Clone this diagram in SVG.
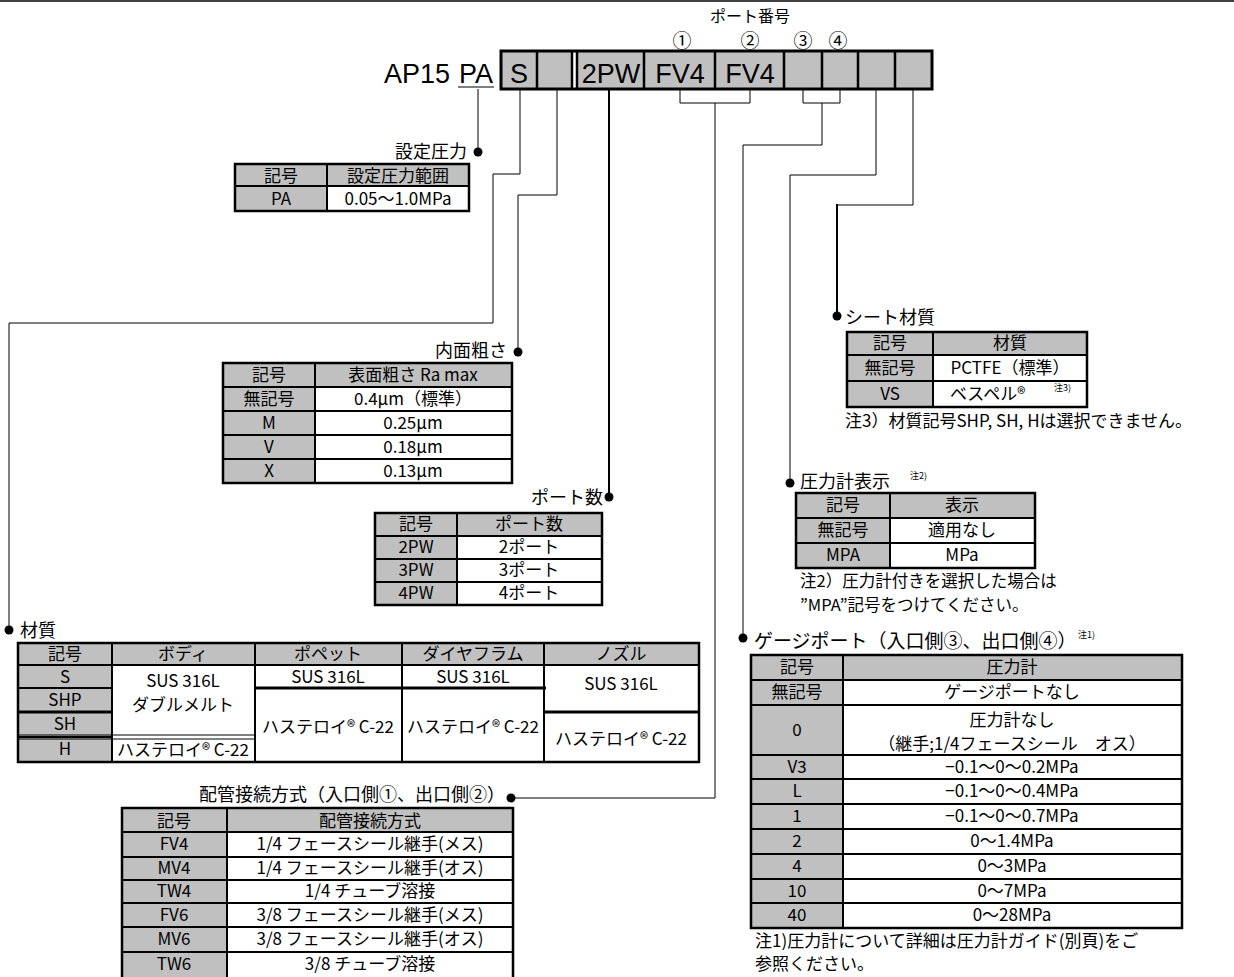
<svg xmlns="http://www.w3.org/2000/svg" width="1234" height="977" viewBox="0 0 1234 977">
<style>
text{font-family:"Noto Sans CJK JP","Liberation Sans",sans-serif;font-size:17px;fill:#000}
.c{text-anchor:middle}
.e{text-anchor:end}
.lb{font-size:18px}
.nt{font-size:16.5px}
.sup{font-size:9px}
.big{font-family:"Liberation Sans",sans-serif;font-size:27px}
.g{fill:#c0c0c0}
.w{fill:#fff}
.ob{fill:none;stroke:#000;stroke-width:2.5}
.il{stroke:#000;stroke-width:2;fill:none}
.cn{stroke:#000;stroke-width:1;fill:none}
.cn2{stroke:#000;stroke-width:2;fill:none}
.dot{fill:#000}
</style>
<rect width="1234" height="977" fill="#fff"/>
<line x1="0" y1="1" x2="1234" y2="1" stroke="#000" stroke-width="1.5"/>

<g id="header">
<text class="c" x="750" y="22" style="font-size:16px">ポート番号</text>
<text class="c" x="682" y="48" style="font-size:19px">①</text>
<text class="c" x="750" y="48" style="font-size:19px">②</text>
<text class="c" x="803" y="48" style="font-size:19px">③</text>
<text class="c" x="838" y="48" style="font-size:19px">④</text>
<text class="big e" x="450" y="83">AP15</text>
<text class="big c" x="476" y="83">PA</text>
<line x1="458" y1="87" x2="494" y2="87" stroke="#000" stroke-width="1.2"/>
<rect x="501" y="51" width="431" height="38" class="g"/>
<rect x="572" y="51" width="5" height="38" class="w"/>
<rect x="501" y="51" width="431" height="38" style="fill:none;stroke:#000;stroke-width:3"/>
<path d="M537,51V89M572,51V89M577,51V89M644,51V89M715,51V89M784,51V89M822,51V89M858,51V89M895,51V89" style="stroke:#000;stroke-width:2.5"/>
<text class="big c" x="519" y="83">S</text>
<text class="big c" x="611" y="83">2PW</text>
<text class="big c" x="680" y="83">FV4</text>
<text class="big c" x="750" y="83">FV4</text>
</g>

<g id="connectors">
<path class="cn" d="M478,89V152"/>
<path class="cn" d="M520,89V174H493V323H9V630"/>
<path class="cn" d="M557,89V195H518V352"/>
<path class="cn2" d="M609,89V497"/>
<path class="cn" d="M680,89V103H750V89M715,103V798H511"/>
<path class="cn" d="M803,89V103H840V89M822,103V145H743V638"/>
<path class="cn" d="M876,89V175H790V483"/>
<path class="cn" d="M913,89V205H837"/>
<path class="cn2" d="M837,204V316"/>
<circle class="dot" cx="478" cy="152" r="4.5"/>
<circle class="dot" cx="9" cy="630" r="4.5"/>
<circle class="dot" cx="518" cy="352" r="4.5"/>
<circle class="dot" cx="609" cy="497" r="4.5"/>
<circle class="dot" cx="511" cy="798" r="4.5"/>
<circle class="dot" cx="743" cy="638" r="4.5"/>
<circle class="dot" cx="790" cy="483" r="4.5"/>
<circle class="dot" cx="837" cy="316" r="4.5"/>
</g>

<g id="setting-pressure">
<text class="lb e" x="467" y="158">設定圧力</text>
<rect x="235" y="164" width="234" height="22" class="g"/>
<rect x="235" y="186" width="92" height="25" class="g"/>
<rect x="327" y="186" width="142" height="25" class="w"/>
<path class="il" d="M327,164V211M235,186H469"/>
<rect x="235" y="164" width="234" height="47" class="ob"/>
<text class="c" x="281" y="182">記号</text>
<text class="c" x="398" y="182">設定圧力範囲</text>
<text class="c" x="281" y="205">PA</text>
<text class="c" x="398" y="205">0.05〜1.0MPa</text>
</g>

<g id="roughness">
<text class="lb e" x="507" y="357">内面粗さ</text>
<rect x="223" y="363" width="289" height="24" class="g"/>
<rect x="223" y="387" width="92" height="96" class="g"/>
<rect x="315" y="387" width="197" height="96" class="w"/>
<path class="il" d="M315,363V483M223,387H512M223,411H512M223,435H512M223,459H512"/>
<rect x="223" y="363" width="289" height="120" class="ob"/>
<text class="c" x="269" y="381">記号</text>
<text class="c" x="413" y="381">表面粗さ Ra max</text>
<text class="c" x="269" y="405">無記号</text>
<text class="c" x="413" y="405">0.4μm（標準）</text>
<text class="c" x="269" y="429">M</text>
<text class="c" x="413" y="429">0.25μm</text>
<text class="c" x="269" y="453">V</text>
<text class="c" x="413" y="453">0.18μm</text>
<text class="c" x="269" y="477">X</text>
<text class="c" x="413" y="477">0.13μm</text>
</g>

<g id="ports">
<text class="lb e" x="603" y="504">ポート数</text>
<rect x="375" y="513" width="227" height="23" class="g"/>
<rect x="375" y="536" width="82" height="69" class="g"/>
<rect x="457" y="536" width="145" height="69" class="w"/>
<path class="il" d="M457,513V605M375,536H602M375,559H602M375,582H602"/>
<rect x="375" y="513" width="227" height="92" class="ob"/>
<text class="c" x="416" y="530">記号</text>
<text class="c" x="529" y="530">ポート数</text>
<text class="c" x="416" y="553">2PW</text>
<text class="c" x="529" y="553">2ポート</text>
<text class="c" x="416" y="576">3PW</text>
<text class="c" x="529" y="576">3ポート</text>
<text class="c" x="416" y="599">4PW</text>
<text class="c" x="529" y="599">4ポート</text>
</g>

<g id="material">
<text class="lb" x="20" y="637">材質</text>
<rect x="18" y="643" width="681" height="22" class="g"/>
<rect x="18" y="665" width="94" height="97" class="g"/>
<rect x="112" y="665" width="587" height="97" class="w"/>
<path class="il" d="M112,643V762M255,643V762M402,643V762M544,643V762M18,665H699M18,688H112M18,737H112"/>
<path style="stroke:#000;stroke-width:3" d="M255,688H546M18,712H112M544,712H699"/>
<path style="stroke:#000;stroke-width:1" d="M18,735H255M18,739H255"/>
<rect x="18" y="643" width="681" height="119" class="ob"/>
<text class="c" x="65" y="660">記号</text>
<text class="c" x="183" y="660">ボディ</text>
<text class="c" x="328" y="660">ポペット</text>
<text class="c" x="473" y="660">ダイヤフラム</text>
<text class="c" x="621" y="660">ノズル</text>
<text class="c" x="65" y="683">S</text>
<text class="c" x="65" y="706">SHP</text>
<text class="c" x="65" y="730">SH</text>
<text class="c" x="65" y="755">H</text>
<text class="c" x="183" y="687">SUS 316L</text>
<text class="c" x="183" y="711">ダブルメルト</text>
<text class="c" x="183" y="756">ハステロイ® C-22</text>
<text class="c" x="328" y="683">SUS 316L</text>
<text class="c" x="328" y="733">ハステロイ® C-22</text>
<text class="c" x="473" y="683">SUS 316L</text>
<text class="c" x="473" y="733">ハステロイ® C-22</text>
<text class="c" x="621" y="690">SUS 316L</text>
<text class="c" x="621" y="745">ハステロイ® C-22</text>
</g>

<g id="piping">
<text class="lb e" x="505" y="801">配管接続方式（入口側①、出口側②）</text>
<rect x="122" y="808" width="391" height="24" class="g"/>
<rect x="122" y="832" width="105" height="145" class="g"/>
<rect x="227" y="832" width="286" height="145" class="w"/>
<path class="il" d="M227,808V977M122,832H513M122,857H513M122,880H513M122,903H513M122,927H513M122,952H513"/>
<path class="ob" d="M122,978V808H513V978"/>
<text class="c" x="174" y="827">記号</text>
<text class="c" x="370" y="827">配管接続方式</text>
<text class="c" x="174" y="850">FV4</text>
<text class="c" x="370" y="850">1/4  フェースシール継手(メス)</text>
<text class="c" x="174" y="874">MV4</text>
<text class="c" x="370" y="874">1/4  フェースシール継手(オス)</text>
<text class="c" x="174" y="897">TW4</text>
<text class="c" x="370" y="897">1/4  チューブ溶接</text>
<text class="c" x="174" y="921">FV6</text>
<text class="c" x="370" y="921">3/8  フェースシール継手(メス)</text>
<text class="c" x="174" y="945">MV6</text>
<text class="c" x="370" y="945">3/8  フェースシール継手(オス)</text>
<text class="c" x="174" y="970">TW6</text>
<text class="c" x="370" y="970">3/8  チューブ溶接</text>
</g>

<g id="seat-material">
<text class="lb" x="845" y="324">シート材質</text>
<rect x="847" y="332" width="240" height="23" class="g"/>
<rect x="847" y="355" width="86" height="52" class="g"/>
<rect x="933" y="355" width="154" height="52" class="w"/>
<path class="il" d="M933,332V407M847,355H1087M847,381H1087"/>
<rect x="847" y="332" width="240" height="75" class="ob"/>
<text class="c" x="890" y="349">記号</text>
<text class="c" x="1010" y="349">材質</text>
<text class="c" x="890" y="374">無記号</text>
<text class="c" x="1010" y="374">PCTFE（標準）</text>
<text class="c" x="890" y="400">VS</text>
<text x="950" y="400">ベスペル®</text>
<text class="sup" x="1054" y="391">注3)</text>
<text class="nt" x="845" y="427" style="font-size:17px">注3）材質記号SHP, SH, Hは選択できません。</text>
</g>

<g id="gauge-display">
<text class="lb" x="800" y="488">圧力計表示</text>
<text class="sup" x="910" y="479">注2)</text>
<rect x="796" y="493" width="239" height="25" class="g"/>
<rect x="796" y="518" width="94" height="50" class="g"/>
<rect x="890" y="518" width="145" height="50" class="w"/>
<path class="il" d="M890,493V568M796,518H1035M796,543H1035"/>
<rect x="796" y="493" width="239" height="75" class="ob"/>
<text class="c" x="843" y="511">記号</text>
<text class="c" x="962" y="511">表示</text>
<text class="c" x="843" y="536">無記号</text>
<text class="c" x="962" y="536">適用なし</text>
<text class="c" x="843" y="561">MPA</text>
<text class="c" x="962" y="561">MPa</text>
<text class="nt" x="800" y="587">注2）圧力計付きを選択した場合は</text>
<text class="nt" x="800" y="611">”MPA”記号をつけてください。</text>
</g>

<g id="gauge-port">
<text class="lb" x="754" y="648" style="font-size:19px">ゲージポート（入口側③、出口側④）</text>
<text class="sup" x="1078" y="638">注1)</text>
<rect x="751" y="655" width="431" height="25" class="g"/>
<rect x="751" y="680" width="92" height="248" class="g"/>
<rect x="843" y="680" width="339" height="248" class="w"/>
<path class="il" d="M843,655V928M751,680H1182M751,705H1182M751,755H1182M751,779H1182M751,804H1182M751,829H1182M751,854H1182M751,879H1182M751,903H1182"/>
<rect x="751" y="655" width="431" height="273" class="ob"/>
<text class="c" x="797" y="673">記号</text>
<text class="c" x="1012" y="673">圧力計</text>
<text class="c" x="797" y="698">無記号</text>
<text class="c" x="1012" y="698">ゲージポートなし</text>
<text class="c" x="797" y="736">0</text>
<text class="c" x="1012" y="726">圧力計なし</text>
<text class="c" x="1012" y="750">（継手;1/4フェースシール　オス）</text>
<text class="c" x="797" y="773">V3</text>
<text class="c" x="1012" y="773">−0.1〜0〜0.2MPa</text>
<text class="c" x="797" y="797">L</text>
<text class="c" x="1012" y="797">−0.1〜0〜0.4MPa</text>
<text class="c" x="797" y="822">1</text>
<text class="c" x="1012" y="822">−0.1〜0〜0.7MPa</text>
<text class="c" x="797" y="847">2</text>
<text class="c" x="1012" y="847">0〜1.4MPa</text>
<text class="c" x="797" y="872">4</text>
<text class="c" x="1012" y="872">0〜3MPa</text>
<text class="c" x="797" y="897">10</text>
<text class="c" x="1012" y="897">0〜7MPa</text>
<text class="c" x="797" y="921">40</text>
<text class="c" x="1012" y="921">0〜28MPa</text>
<text class="nt" x="755" y="947" style="font-size:17px">注1)圧力計について詳細は圧力計ガイド(別頁)をご</text>
<text class="nt" x="755" y="970" style="font-size:17px">参照ください。</text>
</g>
</svg>
